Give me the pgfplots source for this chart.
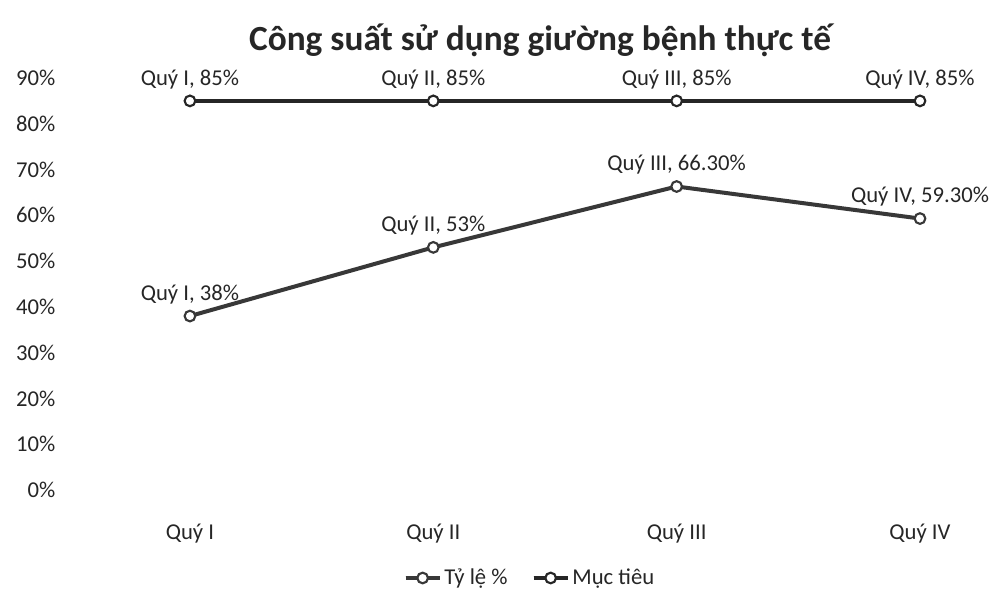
\documentclass[border=0pt]{standalone}
\usepackage{pgfplots}
\usepackage{pgfplotstable}
\pgfplotsset{compat=1.18}
\usepackage{fontspec}
\setmainfont{Carlito}
\pgfplotstableread[col sep=semicolon]{
x;y;label
0;38;Quý I, 38\%
1;53;Quý II, 53\%
2;66.3;Quý III, 66.30\%
3;59.3;Quý IV, 59.30\%
}\actual
\pgfplotstableread[col sep=semicolon]{
x;y;label
0;85;Quý I, 85\%
1;85;Quý II, 85\%
2;85;Quý III, 85\%
3;85;Quý IV, 85\%
}\target
\begin{document}
\begin{tikzpicture}
\path[use as bounding box] (0,0) rectangle (744.75pt,441.75pt);
\node[font=\fontsize{26.5}{30}\selectfont\bfseries, text=black!85] at (405pt,411.75pt) {Công suất sử dụng giường bệnh thực tế};
\begin{axis}[
  at={(45pt,74.25pt)}, anchor=south west,
  scale only axis, width=699.75pt, height=309pt,
  xmin=-0.534, xmax=3.3, ymin=0, ymax=90,
  axis line style={draw=none}, tick style={draw=none}, major tick length=0pt,
  xtick={0,1,2,3}, xticklabels={Quý I,Quý II,Quý III,Quý IV},
  ytick={0,10,...,90},
  yticklabels={0\%,10\%,20\%,30\%,40\%,50\%,60\%,70\%,80\%,90\%},
  x tick label style={font=\fontsize{17}{20}\selectfont, text=black!85, yshift=-22pt},
  y tick label style={font=\fontsize{17}{20}\selectfont, text=black!85},
  clip=false,
  legend style={at={(0.504,-0.2136)}, anchor=center, legend columns=2, draw=none,
    font=\fontsize{17}{20}\selectfont, text=black!85,
    /tikz/every even column/.append style={column sep=16pt}},
  legend image code/.code={%
    \draw[#1, line width=3pt] (0pt,0pt) -- (0.9cm,0pt);
    \draw[#1, mark repeat=2, mark phase=2] plot coordinates {(0pt,0pt) (0.45cm,0pt) (0.9cm,0pt)};},
  nodes near coords, point meta=explicit symbolic,
  every node near coord/.append style={anchor=south, yshift=5pt, font=\fontsize{17}{20}\selectfont, text=black!85},
]
\addplot[color=black!78, line width=3pt, mark=*, mark size=4pt, mark options={fill=white, line width=1.6pt}] table[x=x, y=y, meta=label] {\actual};
\addlegendentry{Tỷ lệ \%}
\addplot[color=black!85, line width=3pt, mark=*, mark size=4pt, mark options={fill=white, line width=1.6pt}] table[x=x, y=y, meta=label] {\target};
\addlegendentry{Mục tiêu}
\end{axis}
\end{tikzpicture}
\end{document}
